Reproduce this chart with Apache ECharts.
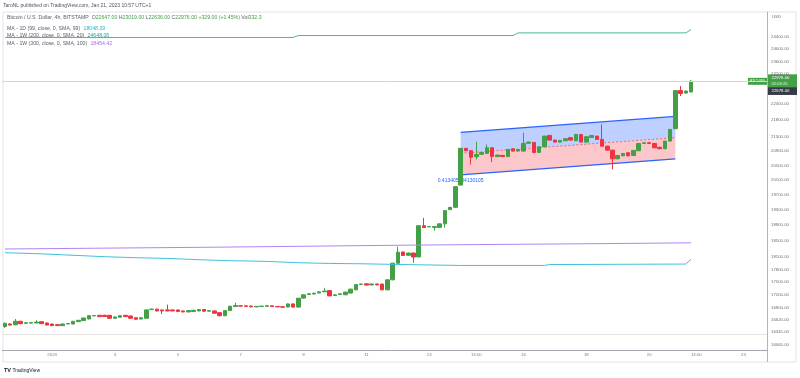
<!DOCTYPE html>
<html>
<head>
<meta charset="utf-8">
<script src="https://cdn.jsdelivr.net/npm/echarts@6.0.0/dist/echarts.min.js"></script>
<style>
  html, body { margin: 0; padding: 0; background: #fff; }
  #main { width: 800px; height: 378px; }
</style>
</head>
<body>
<div id="main"></div>
<script>
  // BTCUSD 4h, BITSTAMP. first candle = Dec 30 13:00 (UTC+1)
  var startTime = Date.UTC(2022, 11, 30, 13, 0)
  var slotCount = 146   // 132 candles + empty slots on the right
  var categories = []
  function pad(n) { return (n < 10 ? '0' : '') + n }
  for (var s = 0; s < slotCount; s++) {
    var d = new Date(startTime + s * 4 * 3600 * 1000)
    categories.push(pad(d.getUTCMonth() + 1) + '-' + pad(d.getUTCDate()) + ' ' + pad(d.getUTCHours()) + ':00')
  }

  var xTickIdx = [9, 21, 33, 45, 57, 69, 81, 90, 99, 111, 123, 132, 141]
  var xTickText = ['2023', '3', '5', '7', '9', '11', '13', '13:00', '16', '18', '20', '13:00', '23']

  var priceTicks = [24400, 24000, 23600, 23200, 22300, 21800, 21300, 20900, 20500, 20100, 19700,
    19300, 18900, 18500, 18100, 17800, 17500, 17200, 16900, 16620, 16345, 16065]
  var yMin = 15956
  var yMax = 25243

  // [open, close, low, high]
  var candles = [
    [16470,16545,16445,16560],[16530,16505,16495,16545],[16512,16590,16500,16642],[16590,16537,16525,16600],
    [16545,16556,16535,16565],[16550,16560,16540,16570],[16552,16572,16545,16612],[16580,16537,16530,16590],
    [16552,16507,16495,16560],[16529,16492,16480,16535],[16515,16492,16485,16520],[16492,16529,16485,16535],
    [16530,16540,16525,16550],[16529,16590,16520,16595],[16582,16612,16575,16620],[16605,16665,16600,16670],
    [16642,16717,16635,16725],[16712,16720,16705,16728],[16725,16695,16688,16735],[16725,16698,16690,16740],
    [16725,16658,16650,16735],[16658,16688,16650,16695],[16682,16717,16675,16725],[16725,16695,16690,16735],
    [16710,16658,16650,16718],[16670,16636,16628,16675],[16642,16670,16630,16678],[16658,16848,16650,16860],
    [16855,16866,16848,16878],[16866,16825,16815,16875],[16848,16825,16756,16855],[16848,16825,16815,16970],
    [16848,16825,16818,16855],[16848,16810,16800,16856],[16825,16802,16795,16832],[16802,16832,16795,16840],
    [16810,16840,16800,16848],[16825,16856,16818,16865],[16856,16818,16810,16865],[16820,16830,16812,16838],
    [16825,16772,16765,16832],[16786,16717,16700,16790],[16717,16832,16705,16840],[16832,16933,16825,16940],
    [16925,16947,16918,17015],[16945,16935,16928,16952],[16942,16930,16922,16950],[16938,16918,16910,16945],
    [16918,16930,16912,16937],[16925,16935,16918,16942],[16930,16945,16925,16952],[16942,16925,16918,16948],
    [16928,16918,16910,16935],[16920,16910,16900,16928],[16915,16986,16908,16995],[16986,16912,16905,16995],
    [16912,17118,16905,17125],[17120,17196,17110,17205],[17205,17222,17195,17230],[17215,17235,17208,17242],
    [17240,17266,17232,17272],[17268,17285,17260,17360],[17295,17172,17165,17300],[17180,17196,17172,17203],
    [17205,17220,17198,17226],[17198,17260,17190,17266],[17238,17330,17230,17338],[17313,17438,17305,17445],
    [17440,17450,17432,17458],[17455,17425,17418,17462],[17430,17452,17420,17460],[17452,17430,17422,17458],
    [17450,17313,17305,17458],[17313,17550,17305,17560],[17550,17950,17540,17960],[17950,18220,17940,18358],
    [18225,18140,18130,18235],[18145,18200,18138,18210],[18200,18102,17962,18210],[18105,18888,18095,18900],
    [18888,18840,18830,19090],[18858,18868,18850,18878],[18845,18866,18760,18875],[18845,18935,18835,18945],
    [18935,19280,18840,19290],[19305,19365,19290,19375],[19365,19915,19350,19930],[19960,20980,19950,20990],
    [20980,20913,20900,20990],[20913,20727,20524,20925],[20740,20805,20664,21170],[20810,20860,20790,20875],
    [20835,20995,20820,21090],[20995,20750,20590,21005],[20745,20790,20730,20800],[20780,20745,20735,20790],
    [20745,20948,20735,20960],[20967,20900,20890,20975],[20900,20948,20890,20955],[20900,21119,20890,21430],
    [21125,21158,21115,21170],[21148,20862,20840,21158],[20862,21025,20850,21035],[21025,21330,21015,21340],
    [21350,21215,21205,21360],[21215,21157,21150,21225],[21157,21206,21150,21215],[21196,21255,21185,21265],
    [21285,21215,21205,21292],[21196,21379,21190,21390],[21379,21157,21148,21390],[21157,21312,21148,21320],
    [21292,21350,21285,21360],[21330,21235,21225,21340],[21235,21040,21030,21673],[21042,20928,20918,21052],
    [20928,20683,20385,20940],[20683,20777,20670,20790],[20767,20834,20755,20845],[20853,20767,20755,20862],
    [20777,20919,20765,20930],[20910,21119,20900,21130],[21120,21140,21110,21150],[21140,21120,21110,21150],
    [21119,20995,20985,21128],[21010,20967,20955,21020],[20967,21186,20955,21195],[21186,21525,21175,21535],
    [21545,22689,21535,22700],[22689,22600,22520,22830],[22613,22675,22600,22690],[22647,22976,22636,23019]
  ]

  // moving averages as [candle index, value]
  var maDay99 = [[0,18209],[7,18180],[13,18145],[19,18110],[25,18085],[31,18068],[37,18036],[43,18012],
    [50,17995],[56,17962],[62,17945],[68,17937],[75,17920],[87,17896],[103,17896],[104,17918],[130,17930],[131,18048]]
  var maWeek200 = [[0,24385],[55,24385],[56,24450],[97,24450],[98,24537],[130,24537],[131,24648]]
  var maWeek300 = [[0,18300],[40,18345],[80,18400],[110,18430],[131,18454]]

  // parallel channel drawing
  var channelIdx = [87, 128]
  var channelTop = [21440, 21908]
  var channelMid = [20838, 21284]
  var channelBottom = [20236, 20681]
  var channelText = '0.413405984130105'

  var lastOpen = 22647, lastHigh = 23019, lastLow = 22636, lastClose = 22976
  var lastChange = '+329.00 (+1.45%)', lastVol = '332.3'
  var markPrice = 22678
  var lowLine = 16307
  var maDayLast = 18048.39, maWeek200Last = 24648.06, maWeek300Last = 18454.42

  var up = '#43a047', down = '#ef3340'
  var font = 'Liberation Sans'

  var chart = echarts.init(document.getElementById('main'))
  chart.setOption({
    animation: false,
    backgroundColor: '#fff',
    grid: { left: 2.38, right: 33, top: 12, bottom: 28 },
    xAxis: {
      type: 'category',
      data: categories,
      boundaryGap: true,
      axisLine: { lineStyle: { color: '#a3a6af', width: 1 } },
      axisTick: { show: false },
      splitLine: { show: false },
      axisLabel: {
        interval: function (idx) { return xTickIdx.indexOf(idx) >= 0 },
        formatter: function (v, idx) {
          var k = xTickIdx.indexOf(idx)
          return k >= 0 ? xTickText[k] : ''
        },
        fontSize: 4.3, color: '#787b86', margin: 3, fontFamily: font
      }
    },
    yAxis: [{
      type: 'log',
      logBase: 10,
      min: yMin,
      max: yMax,
      position: 'right',
      show: false
    }, {
      type: 'value',
      min: Math.log(yMin),
      max: Math.log(yMax),
      position: 'right',
      axisLine: { show: true, lineStyle: { color: '#b2b5be' } },
      axisTick: { show: false },
      splitLine: { show: false },
      axisLabel: {
        customValues: priceTicks.map(function (p) { return Math.log(p) }),
        formatter: function (v) { return Math.exp(v).toFixed(2) },
        fontSize: 4.3, color: '#6a6d78', margin: 4, fontFamily: font
      }
    }],
    series: [{
      type: 'custom',
      silent: true,
      data: [[channelIdx[0], channelBottom[0]]],
      renderItem: function (params, api) {
        var t0 = api.coord([channelIdx[0], channelTop[0]])
        var t1 = api.coord([channelIdx[1], channelTop[1]])
        var m0 = api.coord([channelIdx[0], channelMid[0]])
        var m1 = api.coord([channelIdx[1], channelMid[1]])
        var b0 = api.coord([channelIdx[0], channelBottom[0]])
        var b1 = api.coord([channelIdx[1], channelBottom[1]])
        return {
          type: 'group',
          children: [
            { type: 'polygon', shape: { points: [t0, t1, m1, m0] }, style: { fill: 'rgba(41,98,255,0.3)' } },
            { type: 'polygon', shape: { points: [m0, m1, b1, b0] }, style: { fill: 'rgba(242,54,69,0.28)' } },
            { type: 'line', shape: { x1: m0[0], y1: m0[1], x2: m1[0], y2: m1[1] },
              style: { stroke: '#ef6670', lineWidth: 1, lineDash: [2, 2] } },
            { type: 'line', shape: { x1: t0[0], y1: t0[1], x2: t1[0], y2: t1[1] },
              style: { stroke: '#2962ff', lineWidth: 1.2 } },
            { type: 'line', shape: { x1: b0[0], y1: b0[1], x2: b1[0], y2: b1[1] },
              style: { stroke: '#2962ff', lineWidth: 1.2 } },
            { type: 'text', x: b0[0], y: b0[1] + 3,
              style: { text: channelText, fill: '#2962ff', fontSize: 5, fontFamily: font,
                align: 'center', verticalAlign: 'top' } }
          ]
        }
      }
    }, {
      name: 'MA 1W 300', type: 'line', data: maWeek300, showSymbol: false, silent: true,
      lineStyle: { color: '#ae85f5', width: 1 }
    }, {
      name: 'MA 1D 99', type: 'line', data: maDay99, showSymbol: false, silent: true,
      lineStyle: { color: '#3fc1dc', width: 1 }
    }, {
      name: 'MA 1W 200', type: 'line', data: maWeek200, showSymbol: false, silent: true,
      lineStyle: { color: '#48b89d', width: 1 }
    }, {
      name: 'BTCUSD', type: 'candlestick', data: candles, barWidth: 4,
      itemStyle: { color: up, color0: down, borderColor: up, borderColor0: down, borderWidth: 1 },
      markLine: {
        silent: true, symbol: 'none', label: { show: false },
        data: [
          { yAxis: lastClose, lineStyle: { color: '#bfe3c4', type: 'solid', width: 1 } },
          { yAxis: lowLine, lineStyle: { color: '#e3e3e3', type: 'solid', width: 1 } }
        ]
      }
    }]
  })

  // price badges on the right scale, placed through the axis
  var yClose = chart.convertToPixel({ yAxisIndex: 0 }, lastClose)
  var yMark = chart.convertToPixel({ yAxisIndex: 0 }, markPrice)

  var legendRich = {
    g: { fill: '#5d606b', fontSize: 5.2, fontFamily: font },
    v: { fill: up, fontSize: 5.2, fontFamily: font },
    c: { fill: '#26b7cf', fontSize: 5.2, fontFamily: font },
    t: { fill: '#26a69a', fontSize: 5.2, fontFamily: font },
    p: { fill: '#9c6cf0', fontSize: 5.2, fontFamily: font }
  }

  chart.setOption({
    graphic: [
      { type: 'rect', shape: { x: 3, y: 12, width: 793, height: 350 }, silent: true,
        style: { fill: 'none', stroke: '#e0e3eb', lineWidth: 1 } },
      { type: 'line', shape: { x1: 767.5, y1: 350, x2: 767.5, y2: 362 }, silent: true,
        style: { stroke: '#b2b5be', lineWidth: 1 } },
      { type: 'text', x: 3, y: 3, silent: true,
        style: { text: 'TaroNL published on TradingView.com, Jan 21, 2023 10:57 UTC+1',
          fill: '#50535e', fontSize: 5, fontFamily: font } },
      { type: 'text', x: 7, y: 15.5, silent: true,
        style: { text: '{g|Bitcoin / U.S. Dollar, 4h, BITSTAMP  O}{v|' + lastOpen.toFixed(2) + '}{g| H}{v|' +
            lastHigh.toFixed(2) + '}{g| L}{v|' + lastLow.toFixed(2) + '}{g| C}{v|' + lastClose.toFixed(2) +
            ' ' + lastChange + '}{g| Vol}{v|' + lastVol + '}', rich: legendRich } },
      { type: 'text', x: 7, y: 22.5, silent: true,
        style: { text: '{g|MA - 1D (99, close, 0, SMA, 99)} {c|' + maDayLast.toFixed(2) + '}', rich: legendRich } },
      { type: 'text', x: 7, y: 29.7, silent: true,
        style: { text: '{g|MA - 1W (200, close, 0, SMA, 20)} {t|' + maWeek200Last.toFixed(2) + '}', rich: legendRich } },
      { type: 'text', x: 7, y: 37.2, silent: true,
        style: { text: '{g|MA - 1W (300, close, 0, SMA, 100)} {p|' + maWeek300Last.toFixed(2) + '}', rich: legendRich } },
      { type: 'text', x: 772, y: 14.5, silent: true,
        style: { text: 'USD', fill: '#6a6d78', fontSize: 4.3, fontFamily: font } },
      { type: 'rect', shape: { x: 768, y: yMark - 4, width: 29, height: 8 }, silent: true,
        style: { fill: '#363a45' } },
      { type: 'text', x: 771.5, y: yMark, silent: true,
        style: { text: markPrice.toFixed(2), fill: '#fff', fontSize: 4.3, fontFamily: font, verticalAlign: 'middle' } },
      { type: 'rect', shape: { x: 768, y: yClose - 7, width: 29, height: 13 }, silent: true,
        style: { fill: up } },
      { type: 'text', x: 771.5, y: yClose - 3.5, silent: true,
        style: { text: lastClose.toFixed(2), fill: '#fff', fontSize: 4.3, fontFamily: font, verticalAlign: 'middle' } },
      { type: 'text', x: 771.5, y: yClose + 2.5, silent: true,
        style: { text: '02:03:20', fill: '#e8f5e9', fontSize: 4.1, fontFamily: font, verticalAlign: 'middle' } },
      { type: 'rect', shape: { x: 748, y: yClose - 3.5, width: 19, height: 7 }, silent: true,
        style: { fill: up } },
      { type: 'text', x: 757.5, y: yClose, silent: true,
        style: { text: 'BTCUSD', fill: '#fff', fontSize: 3.8, fontFamily: font, align: 'center', verticalAlign: 'middle' } },
      { type: 'text', x: 4, y: 367.5, silent: true,
        style: { text: 'TV', fill: '#131722', fontSize: 5.5, fontWeight: 'bold', fontFamily: font } },
      { type: 'text', x: 12.5, y: 368, silent: true,
        style: { text: 'TradingView', fill: '#131722', fontSize: 5, fontFamily: font } }
    ]
  })
</script>
</body>
</html>
